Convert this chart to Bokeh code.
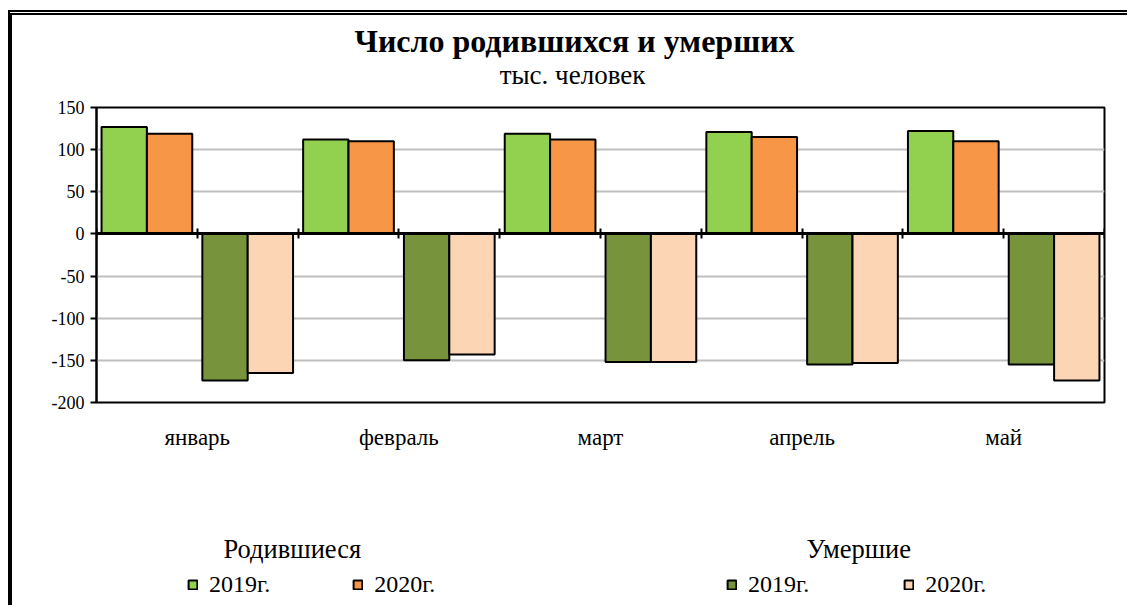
from bokeh.plotting import figure
from bokeh.layouts import column
from bokeh.models import (FactorRange, Range1d, LinearAxis, FixedTicker,
                          ColumnDataSource, Legend, LegendItem, Label)
from bokeh.transform import dodge
from bokeh.embed import file_html
from bokeh.resources import INLINE

# ---- data ----
months = ["январь", "февраль", "март", "апрель", "май"]
born_2019 = [127, 112, 119, 121, 122]
born_2020 = [119, 110, 112, 115, 110]
died_2019 = [-174, -150, -152, -155, -155]
died_2020 = [-165, -143, -152, -153, -174]
y_ticks = [-200, -150, -100, -50, 0, 50, 100, 150]

title_text = "Число родившихся и умерших"
subtitle_text = "тыс. человек"
group_born = "Родившиеся"
group_died = "Умершие"
year_labels = ["2019г.", "2020г."]

C_B19 = "#92D050"
C_B20 = "#F79646"
C_D19 = "#77933C"
C_D20 = "#FCD5B5"
SERIF = "Liberation Serif"
W = 1115


def blank_fig(h):
    f = figure(width=W, height=h, x_range=Range1d(0, 1), y_range=Range1d(0, 1),
               x_axis_location=None, y_axis_location=None,
               output_backend="svg", toolbar_location=None, min_border=0)
    f.grid.visible = False
    f.outline_line_color = None
    f.background_fill_color = "white"
    f.border_fill_color = "white"
    return f


# ---- header ----
head = blank_fig(80)
head.add_layout(Label(x=478, y=55, x_units="screen", y_units="screen", text=title_text,
                      text_font=SERIF, text_font_size="32px", text_font_style="bold",
                      text_align="center", text_baseline="alphabetic", text_color="black"))
head.add_layout(Label(x=476, y=21, x_units="screen", y_units="screen", text=subtitle_text,
                      text_font=SERIF, text_font_size="27px",
                      text_align="center", text_baseline="alphabetic", text_color="black"))

# ---- chart ----
src = ColumnDataSource(dict(month=months, b19=born_2019, b20=born_2020,
                            d19=died_2019, d20=died_2020))

p = figure(width=W, height=367,
           x_range=FactorRange(factors=months, range_padding=0),
           y_range=Range1d(-200, 150),
           output_backend="svg", toolbar_location=None,
           min_border_left=84, min_border_top=12, min_border_right=23, min_border_bottom=60)

bw = 0.225
bar_kw = dict(bottom=0, width=bw, source=src, line_color="black", line_width=2)
p.vbar(x=dodge("month", -0.3625, range=p.x_range), top="b19", fill_color=C_B19, **bar_kw)
p.vbar(x=dodge("month", -0.1375, range=p.x_range), top="b20", fill_color=C_B20, **bar_kw)
p.vbar(x=dodge("month", 0.1375, range=p.x_range), top="d19", fill_color=C_D19, **bar_kw)
p.vbar(x=dodge("month", 0.3625, range=p.x_range), top="d20", fill_color=C_D20, **bar_kw)

p.outline_line_color = "black"
p.outline_line_width = 2
p.xgrid.visible = False
p.ygrid.grid_line_color = "#bfbfbf"
p.ygrid.grid_line_width = 2
p.background_fill_color = "white"
p.border_fill_color = "white"

p.yaxis.ticker = FixedTicker(ticks=y_ticks)
p.yaxis.major_label_overrides = {t: str(t) for t in y_ticks}
p.yaxis.axis_line_color = "black"
p.yaxis.axis_line_width = 2
p.yaxis.major_tick_out = 6
p.yaxis.major_tick_in = 0
p.yaxis.major_tick_line_width = 2
p.yaxis.minor_tick_line_color = None
p.yaxis.major_label_text_font = SERIF
p.yaxis.major_label_text_font_size = "18px"
p.yaxis.major_label_text_color = "black"
p.yaxis.major_label_standoff = 6

p.xaxis.axis_line_color = None
p.xaxis.major_tick_line_color = None
p.xaxis.minor_tick_line_color = None
p.xaxis.major_label_text_font = SERIF
p.xaxis.major_label_text_font_size = "23px"
p.xaxis.major_label_text_color = "black"
p.xaxis.major_label_standoff = 16

slot_edges = [k / 2 for k in range(2 * len(months) + 1)]
zero_axis = LinearAxis(fixed_location=0,
                       ticker=FixedTicker(ticks=slot_edges),
                       axis_line_width=3, axis_line_color="black",
                       major_tick_in=5, major_tick_out=5, major_tick_line_width=2,
                       minor_tick_line_color=None,
                       major_label_text_color=None)
p.add_layout(zero_axis, "below")

# ---- legend area ----
leg = blank_fig(143)
series_colors = [C_B19, C_B20, C_D19, C_D20]
series_first = [born_2019[0], born_2020[0], died_2019[0], died_2020[0]]
swatch = [leg.vbar(x=[0.5], top=[v], width=0.1, fill_color=c, line_color="black",
                   line_width=2, visible=False)
          for c, v in zip(series_colors, series_first)]

leg.add_layout(Label(x=127, y=56.5, x_units="screen", y_units="screen", text=group_born,
                     text_font=SERIF, text_font_size="26.5px",
                     text_align="left", text_baseline="alphabetic", text_color="black"))
leg.add_layout(Label(x=710, y=56.5, x_units="screen", y_units="screen", text=group_died,
                     text_font=SERIF, text_font_size="26.5px",
                     text_align="left", text_baseline="alphabetic", text_color="black"))


def make_legend(rs, loc, spacing):
    return Legend(items=[LegendItem(label=year_labels[i], renderers=[rs[i]]) for i in range(2)],
                  location=loc, orientation="horizontal",
                  glyph_width=11, glyph_height=11, label_standoff=11, spacing=spacing,
                  padding=0, margin=0, border_line_color=None, background_fill_alpha=0,
                  label_text_font=SERIF, label_text_font_size="24px", label_text_color="black")


leg.add_layout(make_legend(swatch[0:2], (91, 7), 82))
leg.add_layout(make_legend(swatch[2:4], (630, 7), 94))

layout = column(head, p, leg, spacing=0)
layout.styles = {"border-left": "4px solid black", "border-top": "5px double black",
                 "margin-left": "8px", "margin-top": "10px"}

open("out.html", "w").write(file_html(layout, INLINE))
